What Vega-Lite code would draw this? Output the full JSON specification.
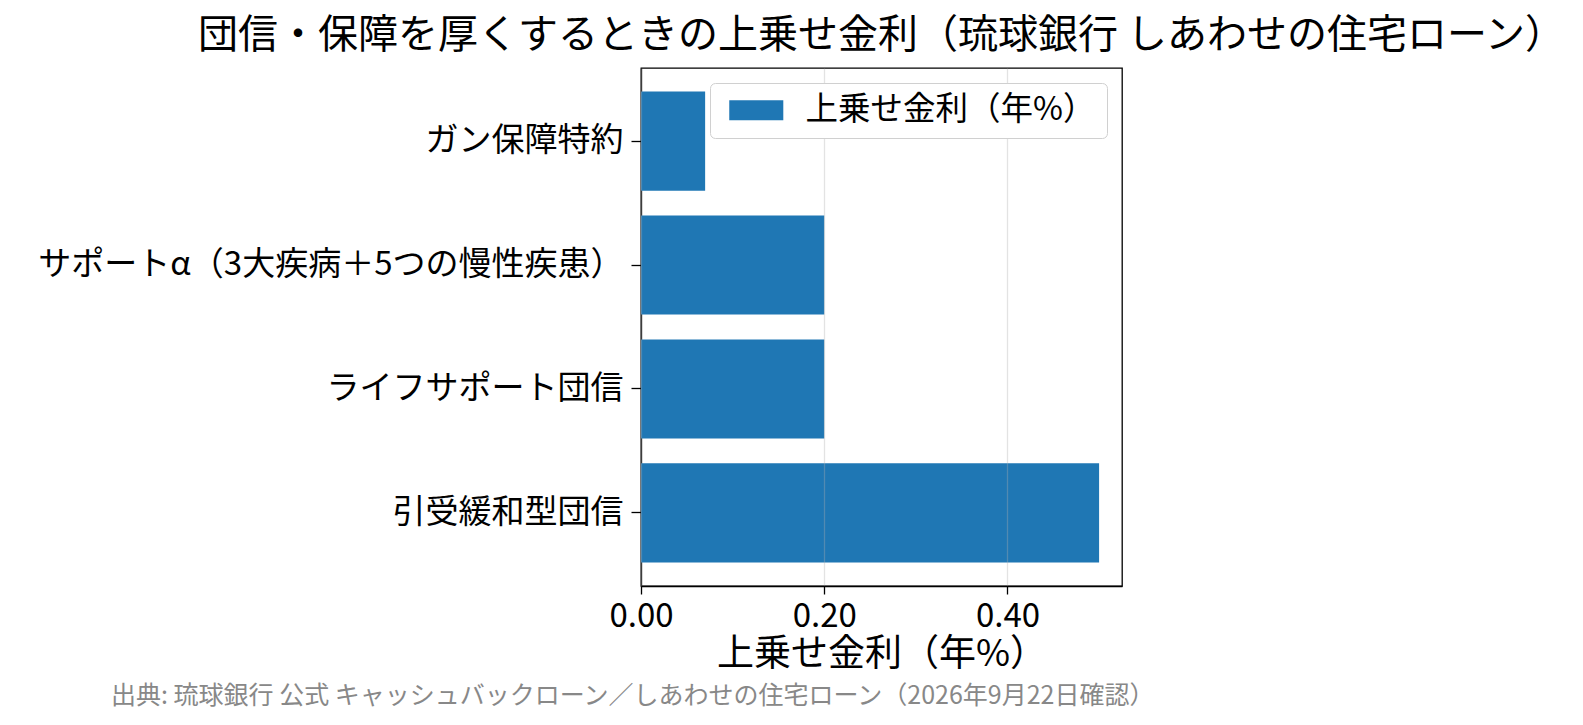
{
  "$schema": "https://vega.github.io/schema/vega-lite/v6.json",
  "autosize": {"type": "pad"},
  "padding": {"left": 37, "top": 15, "right": 30, "bottom": 16},
  "background": "white",
  "data": {
    "values": [
      {"plan": "ガン保障特約", "rate": 0.07, "series": "上乗せ金利（年%）"},
      {"plan": "サポートα（3大疾病＋5つの慢性疾患）", "rate": 0.2, "series": "上乗せ金利（年%）"},
      {"plan": "ライフサポート団信", "rate": 0.2, "series": "上乗せ金利（年%）"},
      {"plan": "引受緩和型団信", "rate": 0.5, "series": "上乗せ金利（年%）"}
    ]
  },
  "vconcat": [
    {
      "width": 481,
      "height": 518,
      "title": {
        "text": "団信・保障を厚くするときの上乗せ金利（琉球銀行 しあわせの住宅ローン）",
        "fontSize": 40,
        "fontWeight": "normal",
        "color": "#000",
        "anchor": "middle",
        "baseline": "bottom",
        "offset": -28
      },
      "mark": {"type": "bar"},
      "encoding": {
        "y": {
          "field": "plan",
          "type": "nominal",
          "sort": ["ガン保障特約", "サポートα（3大疾病＋5つの慢性疾患）", "ライフサポート団信", "引受緩和型団信"],
          "scale": {"paddingInner": 0.2, "paddingOuter": 0.19},
          "axis": {
            "title": null,
            "labelFontSize": 33,
            "labelColor": "#000",
            "labelPadding": 8,
            "tickSize": 10,
            "tickColor": "#000",
            "tickWidth": 1.3,
            "domainColor": "#000",
            "domainWidth": 1.3,
            "grid": false,
            "labelLimit": 800
          }
        },
        "x": {
          "field": "rate",
          "type": "quantitative",
          "scale": {"domain": [0, 0.525], "nice": false, "zero": true},
          "axis": {
            "title": "上乗せ金利（年%）",
            "titleFontSize": 37,
            "titleFontWeight": "normal",
            "titleColor": "#000",
            "titlePadding": 3,
            "values": [0, 0.2, 0.4],
            "format": ".2f",
            "labelFontSize": 33,
            "labelColor": "#000",
            "labelPadding": 6,
            "labelOverlap": false,
            "labelFlush": false,
            "tickSize": 8,
            "tickColor": "#000",
            "tickWidth": 1.3,
            "domainColor": "#000",
            "domainWidth": 1.3,
            "grid": true,
            "gridColor": "#b0b0b0",
            "gridOpacity": 0.35,
            "gridWidth": 1.3,
            "zindex": 1
          }
        },
        "color": {
          "field": "series",
          "type": "nominal",
          "scale": {"range": ["#1f77b4"]},
          "legend": {
            "title": null,
            "orient": "top-right",
            "offset": 15,
            "labelFontSize": 32.5,
            "labelColor": "#000",
            "labelOffset": 52,
            "labelLimit": 500,
            "symbolType": "M-0.533,-0.667H3.07V0.667H-0.533Z",
            "symbolSize": 900,
            "symbolStrokeWidth": 0,
            "symbolOpacity": 1,
            "strokeColor": "#d0d0d0",
            "fillColor": "#fff",
            "cornerRadius": 5,
            "padding": 11
          }
        }
      }
    }
  ],
  "title": {
    "text": "出典: 琉球銀行 公式 キャッシュバックローン／しあわせの住宅ローン（2026年9月22日確認）",
    "orient": "bottom",
    "anchor": "start",
    "frame": "group",
    "fontSize": 25,
    "fontWeight": "normal",
    "color": "#888888",
    "dx": -530,
    "offset": 11
  },
  "config": {
    "font": "Noto Sans CJK JP",
    "view": {"stroke": "#000", "strokeWidth": 1.3},
    "concat": {"spacing": 0}
  }
}
